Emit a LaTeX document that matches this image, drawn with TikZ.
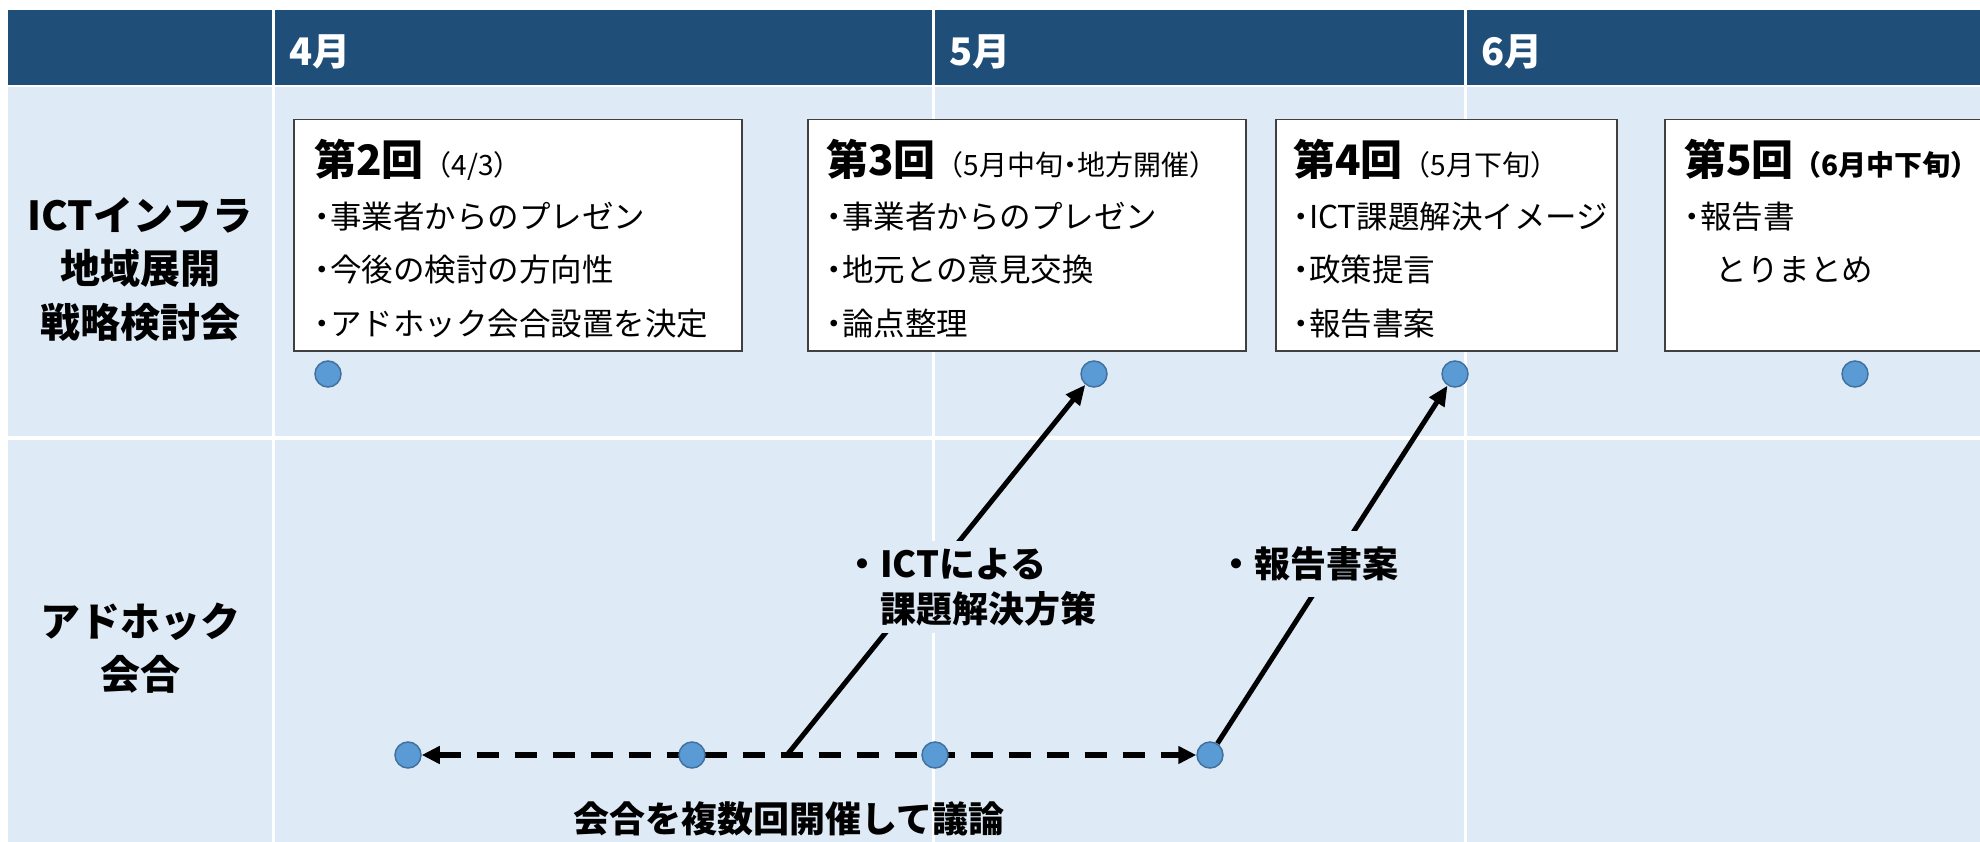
\documentclass[tikz,border=0pt]{standalone}
\usepackage{fontspec}
\setmainfont{Noto Sans CJK JP}
\usetikzlibrary{arrows.meta,shapes.geometric}
\definecolor{hdr}{HTML}{1F4E79}
\definecolor{rowbg}{HTML}{DEEBF7}
\definecolor{dotfill}{HTML}{5B9BD5}
\definecolor{dotline}{HTML}{41719C}
\definecolor{boxline}{HTML}{404040}
\pgfdeclarelayer{bg}
\pgfdeclarelayer{lines}
\pgfsetlayers{bg,lines,main}
\newcommand{\bul}{\makebox[16pt][c]{・}}
\newcommand{\ttl}[2]{{\fontsize{42}{53.5}\selectfont\bfseries #1}{\fontsize{28}{53.5}\selectfont #2}}
\begin{document}
\begin{tikzpicture}[x=1pt,y=-1pt,
  sepline/.style={white,line width=3pt},
  evbox/.style={draw=boxline,line width=1.5pt,fill=white,anchor=north west,inner sep=0pt,minimum height=231pt},
  evtext/.style={anchor=north west,align=left,inner sep=0pt,font=\fontsize{31.5}{53.5}\selectfont},
  mdot/.style={circle,draw=dotline,fill=dotfill,line width=1.5pt,minimum size=26pt,inner sep=0pt},
  rowlabel/.style={align=center,inner sep=0pt,font=\fontsize{40}{53.5}\selectfont\bfseries},
  month/.style={anchor=west,inner sep=0pt,text=white,font=\fontsize{38}{40}\selectfont\bfseries},
  flowlabel/.style={fill=rowbg,align=left,inner xsep=4pt,font=\fontsize{36}{45}\selectfont\bfseries},
  plainlabel/.style={inner sep=0pt,font=\fontsize{36}{45}\selectfont\bfseries},
  dashline/.style={line width=6pt,dash pattern=on 22pt off 16pt,{Triangle[length=18pt,width=17pt]}-{Triangle[length=18pt,width=17pt]}},
  flowarrow/.style={line width=5pt,-{Triangle[length=20pt,width=17pt]}}
]
\useasboundingbox (0,0) rectangle (1980,842);
\clip (0,0) rectangle (1980,842);
\begin{pgfonlayer}{bg}
\fill[white] (0,0) rectangle (1980,842);
\fill[hdr] (8,10) rectangle (1980,85);
\fill[rowbg] (8,85) rectangle (1980,842);
\draw[sepline,line width=2pt] (8,86) -- (1980,86);
\draw[sepline,line width=4pt] (8,438) -- (1980,438);
\draw[sepline] (273,10) -- (273,842);
\draw[sepline] (933,10) -- (933,842);
\draw[sepline] (1465,10) -- (1465,842);
\end{pgfonlayer}

% month headers
\node[month] (m4) at (289,52) {4月};
\node[month] (m5) at (949,52) {5月};
\node[month] (m6) at (1481,52) {6月};

% row labels
\node[rowlabel] (r1) at (140,269) {ICTインフラ\\地域展開\\戦略検討会};
\node[rowlabel] (r2) at (140,648) {アドホック\\会合};

% meeting boxes
\node[evbox,minimum width=448pt] (b1) at (293,119) {};
\node[evbox,minimum width=438pt] (b2) at (807,119) {};
\node[evbox,minimum width=341pt] (b3) at (1275,119) {};
\node[evbox,minimum width=360pt] (b4) at (1664,119) {};

\node[evtext] (t1) at (314,139) {\ttl{第2回}{（4/3）}\\[-1pt]\bul 事業者からのプレゼン\\\bul 今後の検討の方向性\\\bul アドホック会合設置を決定};
\node[evtext] (t2) at (826,139) {\ttl{第3回}{（5月中旬\makebox[14pt][c]{・}地方開催）}\\[-1pt]\bul 事業者からのプレゼン\\\bul 地元との意見交換\\\bul 論点整理};
\node[evtext] (t3) at (1293,139) {\ttl{第4回}{（5月下旬）}\\[-1pt]\bul ICT課題解決イメージ\\\bul 政策提言\\\bul 報告書案};
\node[evtext] (t4) at (1684,139) {\ttl{第5回}{\bfseries （6月中下旬）}\\[-1pt]\bul 報告書\\　とりまとめ};

% dots of the upper row
\node[mdot] (p1) at (328,374) {};
\node[mdot] (p2) at (1094,374) {};
\node[mdot] (p3) at (1455,374) {};
\node[mdot] (p4) at (1855,374) {};

% dots of the lower row
\node[mdot] (q1) at (408,755) {};
\node[mdot] (q2) at (692,755) {};
\node[mdot] (q3) at (935,755) {};
\node[mdot] (q4) at (1210,755) {};
\coordinate (s1) at (787,755);

\begin{pgfonlayer}{lines}
\draw[dashline] (q1) -- (q4);
\draw[flowarrow] (s1) -- (p2);
\draw[flowarrow] (q4) -- (p3);
\end{pgfonlayer}

% labels on the arrows
\node[flowlabel,inner ysep=7pt] (l1) at (970,587) {・ICTによる\\　課題解決方策};
\node[flowlabel,inner ysep=16pt] (l2) at (1308,564) {・報告書案};
\node[plainlabel] (l3) at (789,819) {会合を複数回開催して議論};
\end{tikzpicture}
\end{document}
